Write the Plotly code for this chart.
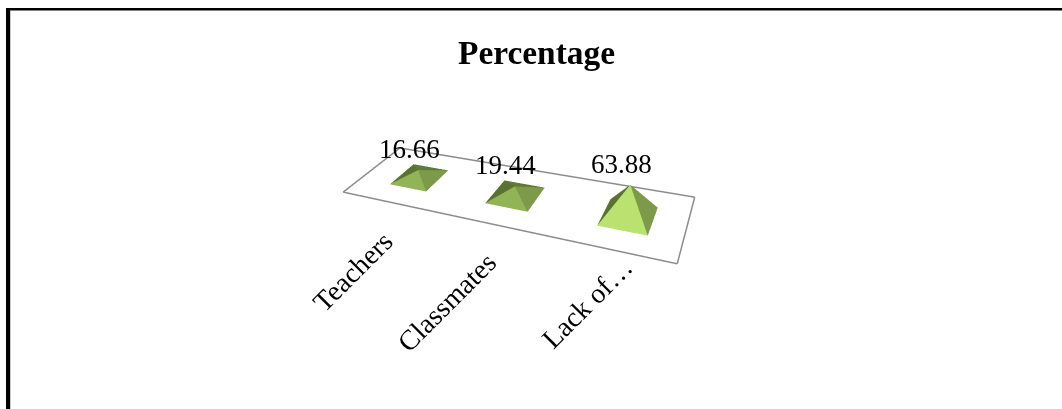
import plotly.graph_objects as go

# Chart data
categories = ["Teachers", "Classmates", "Lack of…"]
percentages = [16.66, 19.44, 63.88]
positions = [1, 2, 3]

# Shades of the pyramid sides: front, right, back, left
front_colours = ["#93B357", "#93B357", "#B9E271"]
right_colour = "#7C9A49"
back_colour = "#5F7A35"
left_colour = "#5A7231"

FONT = "Liberation Serif"
FLOOR_X = [0.46, 3.46]
FLOOR_Y = [0, 1]
PAD_X = 0.06
PAD_Y = 0.02
Z_MAX = 70
Z_ASPECT = 0.111
FLOOR_DEPTH = 0.2971
HALF_WIDTH = 0.2
HALF_DEPTH = 0.22
# Per-label nudges (px) for the slanted category labels
label_shifts = [(10, -20), (12, -20), (27, 1)]

xs, ys, zs, i, j, k, face_colours = [], [], [], [], [], [], []
for pos, value, front in zip(positions, percentages, front_colours):
    n = len(xs)
    xs += [pos - HALF_WIDTH, pos + HALF_WIDTH, pos + HALF_WIDTH, pos - HALF_WIDTH, pos]
    ys += [0.5 - HALF_DEPTH, 0.5 - HALF_DEPTH, 0.5 + HALF_DEPTH, 0.5 + HALF_DEPTH, 0.5]
    zs += [0, 0, 0, 0, value]
    for a, b, colour in [(0, 1, front), (1, 2, right_colour), (2, 3, back_colour), (3, 0, left_colour)]:
        i.append(n + a)
        j.append(n + b)
        k.append(n + 4)
        face_colours.append(colour)

fig = go.Figure()

# Floor outline of the 3D plot, one trace per edge
x0, x1 = FLOOR_X
y0, y1 = FLOOR_Y
for ex, ey in [((x0, x1), (y0, y0)), ((x1, x1), (y0, y1)), ((x1, x0), (y1, y1)), ((x0, x0), (y1, y0))]:
    fig.add_trace(go.Scatter3d(
        x=list(ex), y=list(ey), z=[0, 0],
        mode="lines", line=dict(color="#8C8C8C", width=3), hoverinfo="skip", showlegend=False,
    ))

# Pyramids
fig.add_trace(go.Mesh3d(
    x=xs, y=ys, z=zs, i=i, j=j, k=k, facecolor=face_colours, flatshading=True,
    lighting=dict(ambient=1, diffuse=0, specular=0, fresnel=0, roughness=1),
    hoverinfo="skip", showscale=False,
))

value_labels = [
    dict(x=pos, y=0.5, z=value, text=f"{value:.2f}", showarrow=False, xanchor="center", yanchor="bottom",
         xshift=-9, yshift=4, font=dict(family=FONT, size=27, color="black"))
    for pos, value in zip(positions, percentages)
]
category_labels = [
    dict(x=pos, y=y0, z=0, text=name, showarrow=False, xanchor="right", yanchor="top", textangle=-45,
         xshift=shift[0], yshift=shift[1], font=dict(family=FONT, size=28, color="black"))
    for pos, name, shift in zip(positions, categories, label_shifts)
]

hidden = dict(visible=False, showgrid=False, zeroline=False, showbackground=False, showspikes=False)
z_floor = -Z_ASPECT / 2
fig.update_layout(
    width=1062, height=409, margin=dict(l=0, r=0, t=0, b=0),
    paper_bgcolor="white", showlegend=False,
    title=dict(text="<b>Percentage</b>", x=536.5 / 1062, xanchor="center", y=1 - 52 / 409, yanchor="middle",
               font=dict(family=FONT, size=33.4, color="black")),
    scene=dict(
        domain=dict(x=[0, 1], y=[0, 1]),
        # The axes run a little past the floor so that its edges stay inside the clip box
        xaxis=dict(range=[x0 - PAD_X, x1 + PAD_X], **hidden),
        yaxis=dict(range=[y0 - PAD_Y, y1 + PAD_Y], **hidden),
        zaxis=dict(range=[0, Z_MAX], **hidden),
        aspectmode="manual",
        aspectratio=dict(x=(x1 - x0 + 2 * PAD_X) / (x1 - x0), y=FLOOR_DEPTH * (1 + 2 * PAD_Y), z=Z_ASPECT),
        camera=dict(
            projection=dict(type="perspective"),
            eye=dict(x=0.5624, y=-1.0770, z=0.7939 + z_floor),
            center=dict(x=0.0579, y=0.0076, z=-0.0281 + z_floor),
            up=dict(x=0.0595, y=0, z=0.998),
        ),
        annotations=value_labels + category_labels,
        dragmode=False,
    ),
    # Page frame: heavy left and top rules with a thin inner edge
    shapes=[
        dict(type="rect", xref="paper", yref="paper", x0=6 / 1062, x1=10 / 1062, y0=0, y1=1 - 8 / 409,
             fillcolor="black", line_width=0),
        dict(type="rect", xref="paper", yref="paper", x0=6 / 1062, x1=1, y0=1 - 10 / 409, y1=1 - 8 / 409,
             fillcolor="black", line_width=0),
        dict(type="rect", xref="paper", yref="paper", x0=10 / 1062, x1=1, y0=1 - 11 / 409, y1=1 - 10 / 409,
             fillcolor="#808080", line_width=0),
        dict(type="rect", xref="paper", yref="paper", x0=10 / 1062, x1=11 / 1062, y0=0, y1=1 - 11 / 409,
             fillcolor="#C8C8C8", line_width=0),
    ],
)

fig.write_html("out.html", config=dict(displayModeBar=False))
